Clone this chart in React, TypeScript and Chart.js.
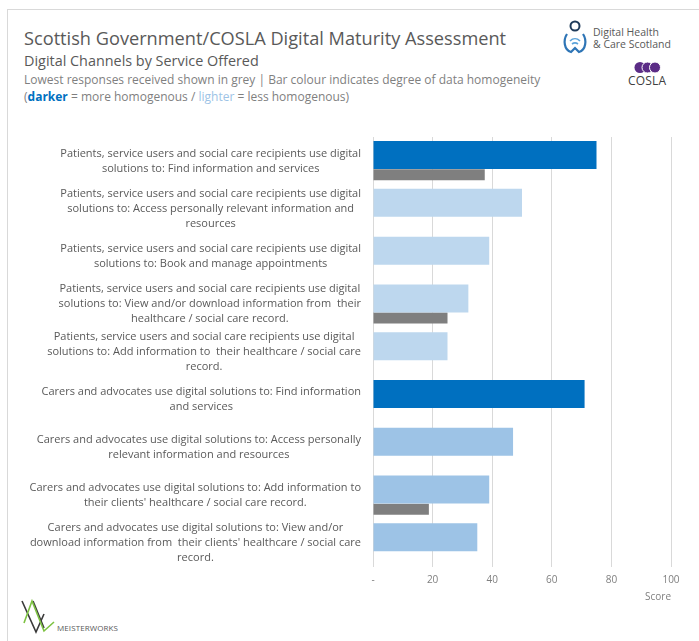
import React, { useEffect, useRef } from 'react';
import { Chart, registerables } from 'chart.js';

Chart.register(...registerables);

// ---------- data ----------
const categories: string[][] = [
  ['Patients, service users and social care recipients use digital', 'solutions to: Find information and services'],
  ['Patients, service users and social care recipients use digital', 'solutions to: Access personally relevant information and', 'resources'],
  ['Patients, service users and social care recipients use digital', 'solutions to: Book and manage appointments'],
  ['Patients, service users and social care recipients use digital', 'solutions to: View and/or download information from  their', 'healthcare / social care record.'],
  ['Patients, service users and social care recipients use digital', 'solutions to: Add information to  their healthcare / social care', 'record.'],
  ['Carers and advocates use digital solutions to: Find information', 'and services'],
  ['Carers and advocates use digital solutions to: Access personally', 'relevant information and resources'],
  ['Carers and advocates use digital solutions to: Add information to', "their clients' healthcare / social care record."],
  ['Carers and advocates use digital solutions to: View and/or', "download information from  their clients' healthcare / social care", 'record.'],
];
const scores: number[] = [75, 50, 39, 32, 25, 71, 47, 39, 35];
const lowestScores: (number | null)[] = [37.5, null, null, 25, null, null, null, 18.75, null];
const homogeneity: string[] = ['high', 'low', 'low', 'low', 'low', 'high', 'medium', 'medium', 'medium'];
const xTickValues: number[] = [0, 20, 40, 60, 80, 100];

// ---------- styles ----------
const HOMOGENEITY_COLORS: Record<string, string> = {
  high: '#0070C0',
  medium: '#9DC3E6',
  low: '#BDD7EE',
};
const GREY_BAR = '#7F7F7F';
const FONT = '"Open Sans", "DejaVu Sans", sans-serif';
const LABEL_FONT_SIZE = 11;
const LABEL_LINE_H = 15;
const LABEL_RIGHT = 361;

const App = () => {
  const canvasRef = useRef<HTMLCanvasElement | null>(null);

  useEffect(() => {
    document.body.style.margin = '0';
    const canvas = canvasRef.current;
    if (!canvas) return;

    const wrappedLabels = {
      id: 'wrappedLabels',
      afterDraw(chart: any) {
        const yScale = chart.scales.y;
        const c = chart.ctx;
        c.save();
        c.font = `${LABEL_FONT_SIZE}px ${FONT}`;
        c.fillStyle = '#595959';
        c.textAlign = 'center';
        c.textBaseline = 'middle';
        (chart.data.labels as string[][]).forEach((lines, i) => {
          const cy = yScale.getPixelForValue(i);
          const w = Math.max(...lines.map((l) => c.measureText(l).width));
          const cx = LABEL_RIGHT - w / 2;
          lines.forEach((l, k) => {
            c.fillText(l, cx, cy + (k - (lines.length - 1) / 2) * LABEL_LINE_H);
          });
        });
        c.restore();
      },
    };

    Chart.defaults.font.family = FONT;

    const chart = new Chart(canvas, {
      type: 'bar',
      data: {
        labels: categories as any,
        datasets: [
          {
            label: 'Score',
            data: scores,
            backgroundColor: homogeneity.map((h) => HOMOGENEITY_COLORS[h]),
            categoryPercentage: 0.4856,
            barPercentage: 2.414,
          },
          {
            label: 'Lowest responses',
            data: lowestScores,
            backgroundColor: GREY_BAR,
            categoryPercentage: 1.155,
            barPercentage: 0.3986,
          },
        ],
      },
      options: {
        indexAxis: 'y',
        animation: false,
        responsive: false,
        layout: { padding: { top: 27, right: 28, bottom: 13, left: 0 } },
        plugins: {
          legend: { display: false },
          tooltip: { enabled: false },
        },
        scales: {
          x: {
            min: 0,
            max: 100,
            afterBuildTicks: (s: any) => {
              s.ticks = xTickValues.map((v) => ({ value: v }));
            },
            ticks: {
              callback: (v: any) => (Number(v) === 0 ? '-' : String(v)),
              color: '#7F7F7F',
              font: { size: 10 },
              padding: 7,
            },
            grid: { color: '#D9D9D9', drawTicks: false },
            border: { display: false },
            title: {
              display: true,
              text: 'Score',
              align: 'end',
              color: '#7F7F7F',
              font: { size: 10 },
              padding: { top: 0, bottom: 4 },
            },
            afterFit: (s: any) => {
              s.height = 40;
            },
          },
          y: {
            ticks: { display: false },
            grid: { display: false },
            border: { display: false },
            afterFit: (s: any) => {
              s.width = 373;
            },
          },
        },
      },
      plugins: [wrappedLabels],
    });

    return () => chart.destroy();
  }, []);

  const textBase: React.CSSProperties = {
    position: 'absolute',
    left: 24,
    fontFamily: FONT,
    whiteSpace: 'nowrap',
    margin: 0,
  };

  return (
    <div style={{ position: 'relative', width: 699, height: 641, overflow: 'hidden', background: '#fff' }}>
      {/* frame lines */}
      <div style={{ position: 'absolute', left: 7, top: 9, width: 692, height: 632, borderTop: '1px solid #D9D9D9', borderLeft: '1px solid #D9D9D9' }} />

      <div style={{ ...textBase, top: 26, fontSize: 18.2, lineHeight: '24px', color: '#595959' }}>
        Scottish Government/COSLA Digital Maturity Assessment
      </div>
      <div style={{ ...textBase, top: 51, fontSize: 14.4, lineHeight: '20px', color: '#595959' }}>
        Digital Channels by Service Offered
      </div>
      <div style={{ ...textBase, top: 72, fontSize: 12, lineHeight: '16px', color: '#7F7F7F' }}>
        Lowest responses received shown in grey | Bar colour indicates degree of data homogeneity
      </div>
      <div style={{ ...textBase, top: 89, fontSize: 12, lineHeight: '16px', color: '#7F7F7F' }}>
        (<span style={{ color: '#0070C0', fontWeight: 700 }}>darker</span> = more homogenous /{' '}
        <span style={{ color: '#9DC3E6' }}>lighter</span> = less homogenous)
      </div>

      {/* Digital Health & Care Scotland logo */}
      <svg style={{ position: 'absolute', left: 562, top: 20 }} width={30} height={36} viewBox="0 0 30 36">
        <circle cx={13} cy={6} r={4.5} fill="none" stroke="#1F3B5A" strokeWidth={2} />
        <path d="M5 14 C1 20 2 30 9 32 L13 28 L17 32 C24 30 25 20 21 14" fill="none" stroke="#2E75B6" strokeWidth={2.2} />
        <path d="M8 21 C11 18 15 18 18 21" fill="none" stroke="#5BA3DA" strokeWidth={1.6} />
        <path d="M10 24 C12 22.5 14 22.5 16 24" fill="none" stroke="#5BA3DA" strokeWidth={1.6} />
      </svg>
      <div style={{ position: 'absolute', left: 593, top: 26, fontFamily: FONT, fontSize: 10.5, lineHeight: '12px', color: '#595959', whiteSpace: 'nowrap' }}>
        Digital Health
        <br />
        &amp; Care Scotland
      </div>

      {/* COSLA logo */}
      <svg style={{ position: 'absolute', left: 633, top: 61 }} width={30} height={13} viewBox="0 0 30 13">
        <circle cx={7} cy={6.5} r={5.5} fill="#5B2C86" />
        <circle cx={14.5} cy={6.5} r={5.5} fill="#5B2C86" stroke="#fff" strokeWidth={1} />
        <circle cx={22} cy={6.5} r={5.5} fill="#5B2C86" stroke="#fff" strokeWidth={1} />
      </svg>
      <div style={{ position: 'absolute', left: 628, top: 74, fontFamily: FONT, fontSize: 12, lineHeight: '14px', color: '#404040', letterSpacing: 0.2 }}>
        COSLA
      </div>

      {/* Meisterworks logo */}
      <svg style={{ position: 'absolute', left: 18, top: 598 }} width={42} height={38} viewBox="0 0 42 38">
        <polyline points="4,3 18,34 26,16" fill="none" stroke="#3A3A3A" strokeWidth={1.6} />
        <polyline points="15,3 26,30" fill="none" stroke="#3A3A3A" strokeWidth={1.6} />
        <polyline points="6,25 14,3 26,33 36,24" fill="none" stroke="#7DC242" strokeWidth={1.6} />
      </svg>
      <div style={{ position: 'absolute', left: 57, top: 623, fontFamily: FONT, fontSize: 8, lineHeight: '10px', color: '#595959', letterSpacing: 0.1 }}>
        MEISTERWORKS
      </div>

      <canvas
        ref={canvasRef}
        width={699}
        height={510}
        style={{ position: 'absolute', left: 0, top: 110, width: 699, height: 510 }}
      />
    </div>
  );
};

export default App;
